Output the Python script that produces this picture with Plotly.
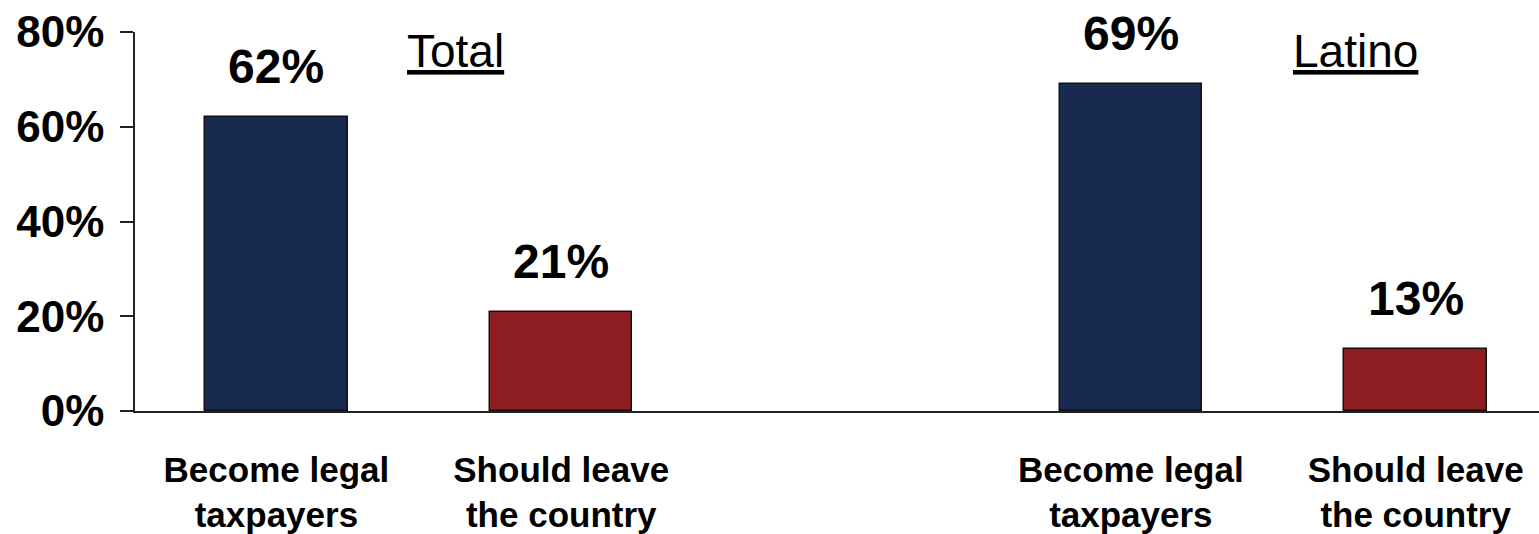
import plotly.graph_objects as go

# Data
groups = ["Total", "Latino"]
categories = ["Become legal<br>taxpayers", "Should leave<br>the country"]
x_positions = [0, 1, 3, 4]
cat_labels = categories + categories
values = [62, 21, 69, 13]
value_labels = ["62%", "21%", "69%", "13%"]
group_title_x = [0.63, 3.79]
y_ticks = [0, 20, 40, 60, 80]
y_tick_text = ["0%", "20%", "40%", "60%", "80%"]

NAVY = "#182A50"
RED = "#8E1D22"
colors = [NAVY, RED, NAVY, RED]
FONT = "Liberation Sans, Arial, sans-serif"

fig = go.Figure()
fig.add_trace(go.Bar(
    x=x_positions, y=values, width=0.5,
    marker=dict(color=colors, line=dict(color="#111111", width=1.5)),
    hoverinfo="skip", showlegend=False,
))

annotations = []
for xv, v, t in zip(x_positions, values, value_labels):
    annotations.append(dict(
        x=xv, y=v, xref="x", yref="y", text=f"<b>{t}</b>", showarrow=False,
        yanchor="bottom", yshift=22, font=dict(family=FONT, size=48, color="#000000"),
    ))
for gx, g in zip(group_title_x, groups):
    annotations.append(dict(
        x=gx, y=1.0, xref="x", yref="paper", text=f"<u>{g}</u>", showarrow=False,
        yanchor="top", yshift=9, font=dict(family=FONT, size=46, color="#000000"),
    ))

fig.update_layout(
    width=1539, height=534,
    margin=dict(l=135, r=0, t=32, b=116),
    plot_bgcolor="white", paper_bgcolor="white",
    bargap=0,
    annotations=annotations,
    font=dict(family=FONT, color="#000000"),
)
fig.update_xaxes(
    range=[-0.4965, 4.433],
    tickvals=x_positions, ticktext=[f"<b>{c}</b>" for c in cat_labels],
    tickfont=dict(family=FONT, size=35, color="#000000"),
    showline=True, linecolor="#222222", linewidth=1.5,
    showgrid=False, zeroline=False, ticks="", ticklabelstandoff=27,
)
fig.update_yaxes(
    range=[0, 80],
    tickvals=y_ticks, ticktext=[f"<b>{t}</b>" for t in y_tick_text],
    tickfont=dict(family=FONT, size=44, color="#000000"),
    showline=True, linecolor="#222222", linewidth=1.5,
    ticks="outside", ticklen=13, tickwidth=1.5, tickcolor="#222222",
    showgrid=False, zeroline=False, ticklabelstandoff=7,
)

fig.write_html(
    "out.html",
    config={"displayModeBar": False},
    post_script="document.body.style.margin='0';document.body.style.overflow='hidden';",
)
